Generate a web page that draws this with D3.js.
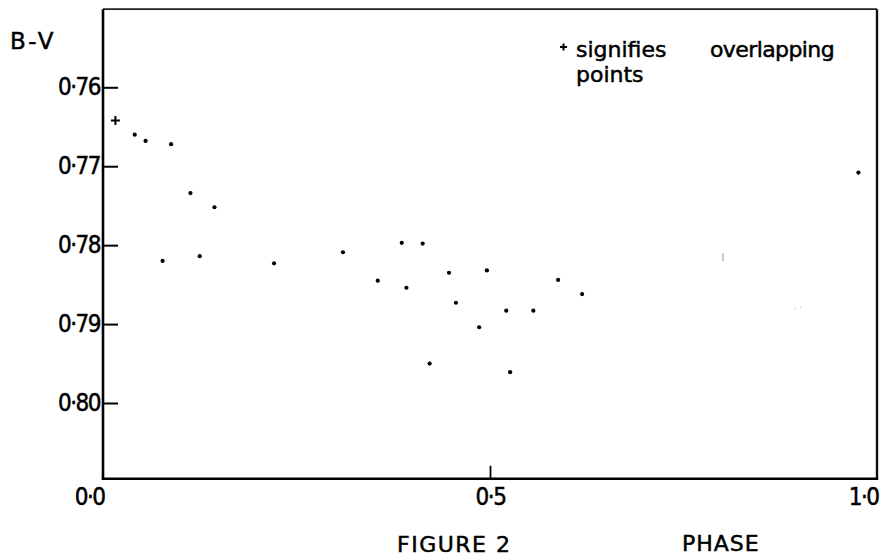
<!DOCTYPE html>
<html>
<head>
<meta charset="utf-8">
<script src="https://cdn.jsdelivr.net/npm/d3@7"></script>
<style>
  html, body { margin: 0; padding: 0; background: #fff; }
  svg { display: block; }
</style>
</head>
<body>
<svg id="chart" width="881" height="558"></svg>
<script>
// ---- data ----
const phase = [0.041, 0.055, 0.088, 0.113, 0.144, 0.077, 0.125, 0.221, 0.310, 0.386, 0.413,
               0.355, 0.392, 0.447, 0.496, 0.588, 0.619, 0.456, 0.521, 0.556, 0.486, 0.422, 0.526, 0.976];
const bv    = [0.7660, 0.7668, 0.7672, 0.7734, 0.7752, 0.7820, 0.7814, 0.7823, 0.7809, 0.7797, 0.7798,
               0.7845, 0.7854, 0.7835, 0.7832, 0.7844, 0.7862, 0.7873, 0.7883, 0.7883, 0.7904, 0.7950, 0.7961, 0.7708];
const overlapPhase = [0.016];
const overlapBV    = [0.7642];
const faintPhase = [0.801, 0.897];
const faintBV    = [0.7815, 0.7880];

const yTickValues = [0.76, 0.77, 0.78, 0.79, 0.80];
const yTickLabels = ["0·76", "0·77", "0·78", "0·79", "0·80"];
const xTickValues = [0, 0.5, 1];
const xTickLabels = ["0·0", "0·5", "1·0"];
const yTitle = "B-V";
const xTitle = "PHASE";
const figTitle = "FIGURE 2";
const legendLines = ["signifies", "overlapping", "points"];

// ---- layout ----
const svg = d3.select("#chart");
const left = 103, right = 877;
const x = d3.scaleLinear().domain([0, 1]).range([left, right]);
const y = d3.scaleLinear().domain([0.76, 0.80]).range([87.3, 403]);
const yTop = 0.7501, yBot = 0.8096;

svg.append("rect").attr("width", 881).attr("height", 558).attr("fill", "#fff");

const tickFont = "'DejaVu Sans Condensed', 'DejaVu Sans', sans-serif";
const textFont = "'DejaVu Sans', sans-serif";
const heavy = sel => sel.attr("fill", "#000").attr("stroke", "#000").attr("stroke-width", 0.5);

// frame
const g = svg.append("g");
g.append("line").attr("x1", x(0)).attr("x2", x(1)).attr("y1", y(yTop)).attr("y2", y(yTop))
  .attr("stroke", "#222").attr("stroke-width", 1.8);
g.append("line").attr("x1", x(1)).attr("x2", x(1)).attr("y1", y(yTop)).attr("y2", y(yBot))
  .attr("stroke", "#111").attr("stroke-width", 2.4);

// y axis
const yAxis = d3.axisLeft(y)
  .tickValues(yTickValues)
  .tickFormat((d, i) => yTickLabels[i])
  .tickSizeInner(-15).tickSizeOuter(0).tickPadding(3);
const ya = svg.append("g").attr("transform", `translate(${x(0)},0)`).call(yAxis);
ya.select(".domain").attr("d", `M0,${y(yTop)}V${y(yBot)}`).attr("stroke", "#000").attr("stroke-width", 2.6);
ya.selectAll(".tick line").attr("stroke", "#000").attr("stroke-width", 2);
ya.selectAll(".tick text").attr("font-family", tickFont).attr("font-size", 24)
  .attr("letter-spacing", -1.5).call(heavy);

// x axis
const xAxis = d3.axisBottom(x)
  .tickValues(xTickValues)
  .tickFormat((d, i) => xTickLabels[i])
  .tickSizeInner(-13).tickSizeOuter(0).tickPadding(9);
const xa = svg.append("g").attr("transform", `translate(0,${y(yBot)})`).call(xAxis);
xa.select(".domain").attr("d", `M${x(0) - 1.3},0H${x(1) + 1.2}`).attr("stroke", "#000").attr("stroke-width", 2.4);
xa.selectAll(".tick line").attr("stroke", "#000").attr("stroke-width", 1.8)
  .attr("opacity", d => (d === 0 || d === 1) ? 0 : 1);
xa.selectAll(".tick text").attr("font-family", tickFont).attr("font-size", 24)
  .attr("letter-spacing", -1.5).call(heavy)
  .attr("text-anchor", d => d === 0.5 ? "middle" : "end")
  .attr("dx", d => d === 0.5 ? 0 : 1);

// axis titles
svg.append("text").attr("x", 10).attr("y", 49).text(yTitle)
  .attr("font-family", textFont).attr("font-size", 23).attr("letter-spacing", 2.5).call(heavy);
svg.append("text").attr("x", 682).attr("y", 551).text(xTitle)
  .attr("font-family", textFont).attr("font-size", 22).attr("letter-spacing", 1).call(heavy);
svg.append("text").attr("x", 397).attr("y", 551.5).text(figTitle)
  .attr("font-family", textFont).attr("font-size", 22).attr("letter-spacing", 1.5).call(heavy);

// legend note
const plusSize = 3.5;
svg.append("path")
  .attr("d", `M${563.5 - plusSize},47H${563.5 + plusSize}M563.5,${47 - plusSize}V${47 + plusSize}`)
  .attr("stroke", "#000").attr("stroke-width", 2);
svg.append("text").attr("x", 576).attr("y", 56.7).text(legendLines[0])
  .attr("font-family", textFont).attr("font-size", 22).call(heavy);
svg.append("text").attr("x", 710).attr("y", 56.7).text(legendLines[1])
  .attr("font-family", textFont).attr("font-size", 22).attr("letter-spacing", -0.6).call(heavy);
svg.append("text").attr("x", 576).attr("y", 82).text(legendLines[2])
  .attr("font-family", textFont).attr("font-size", 22).call(heavy);

// points
svg.append("g").selectAll("circle").data(phase.map((p, i) => [p, bv[i]])).join("circle")
  .attr("cx", d => x(d[0])).attr("cy", d => y(d[1])).attr("r", 2.1).attr("fill", "#000");

// overlapping points (+)
svg.append("g").selectAll("path").data(overlapPhase.map((p, i) => [p, overlapBV[i]])).join("path")
  .attr("d", d => {
    const cx = x(d[0]), cy = y(d[1]), s = 4.5;
    return `M${cx - s},${cy}H${cx + s}M${cx},${cy - s}V${cy + s}`;
  })
  .attr("stroke", "#000").attr("stroke-width", 2);

// faint (barely printed) marks
svg.append("g").selectAll("path").data(faintPhase.map((p, i) => [p, faintBV[i]])).join("path")
  .attr("d", (d, i) => {
    const cx = x(d[0]), cy = y(d[1]);
    return i === 0 ? `M${cx},${cy - 4}V${cy + 4}` : `M${cx - 3},${cy + 1}L${cx - 2},${cy}M${cx + 3},${cy - 1}h1`;
  })
  .attr("stroke", "#999").attr("stroke-width", 1);
</script>
</body>
</html>
